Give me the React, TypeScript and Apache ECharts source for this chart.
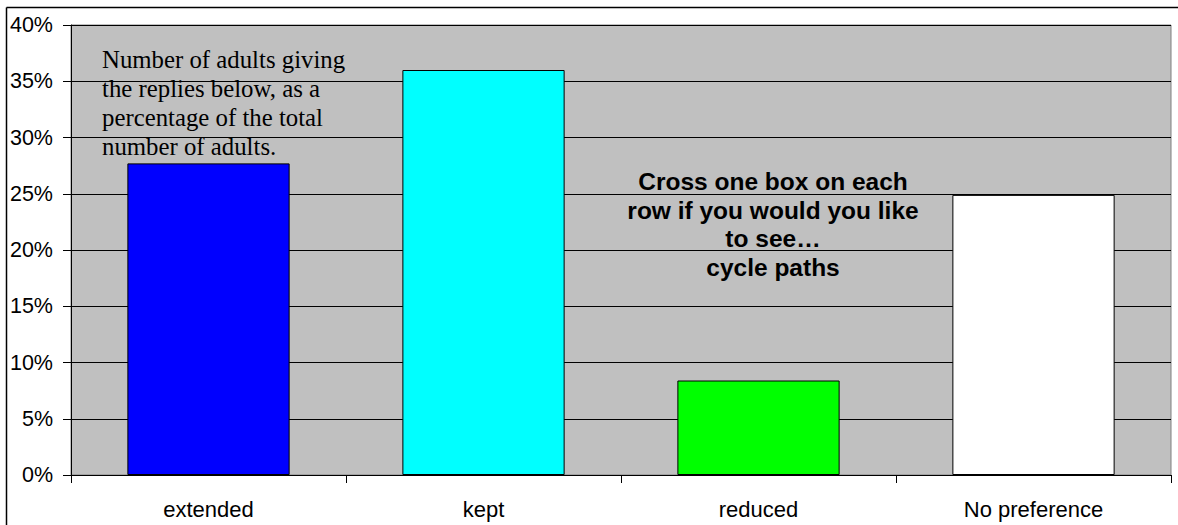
import React, { useEffect, useRef } from "react";
import * as echarts from "echarts";

const categories = ["extended", "kept", "reduced", "No preference"];
const values = [27.7, 36.0, 8.4, 24.9];
const barColors = ["#0000FF", "#00FFFF", "#00FF00", "#FFFFFF"];
const noteLeft = [
  "Number of adults giving",
  "the replies below, as a",
  "percentage of the total",
  "number of adults.",
];
const noteRight = [
  "Cross one box on each",
  "row if you would you like",
  "to see…",
  "cycle paths",
];

export default function App() {
  const ref = useRef<HTMLDivElement>(null);
  useEffect(() => {
    if (!ref.current) return;
    const chart = echarts.init(ref.current, null, { renderer: "svg" });
    chart.setOption({
      animation: false,
      backgroundColor: "#FFFFFF",
      grid: {
        left: 71,
        right: 7,
        top: 25,
        bottom: 50,
        show: true,
        backgroundColor: "#C0C0C0",
        borderColor: "#808080",
        borderWidth: 1,
      },
      xAxis: {
        type: "category",
        data: categories,
        boundaryGap: true,
        axisLine: { lineStyle: { color: "#000", width: 1 } },
        axisTick: { show: true, inside: false, length: 8, alignWithLabel: false, lineStyle: { color: "#000" } },
        axisLabel: {
          color: "#000",
          fontFamily: "Liberation Sans",
          fontSize: 22,
          margin: 23,
        },
      },
      yAxis: {
        type: "value",
        min: 0,
        max: 40,
        interval: 5,
        axisLine: { show: true, lineStyle: { color: "#000", width: 1 } },
        axisTick: { show: true, inside: false, length: 8, lineStyle: { color: "#000" } },
        axisLabel: {
          formatter: "{value}%",
          color: "#000",
          fontFamily: "Liberation Sans",
          fontSize: 21.5,
          margin: 18,
        },
        splitLine: { show: true, lineStyle: { color: "#000", width: 1 } },
      },
      series: [
        {
          type: "bar",
          barWidth: "59%",
          data: values.map((v, i) => ({
            value: v,
            itemStyle: { color: barColors[i], borderColor: "#000", borderWidth: 1 },
          })),
        },
      ],
      graphic: [
        {
          type: "line",
          shape: { x1: 6.5, y1: 7.5, x2: 1178, y2: 7.5 },
          style: { stroke: "#000", lineWidth: 1.5 },
          z: 100,
        },
        {
          type: "line",
          shape: { x1: 6.5, y1: 7.5, x2: 6.5, y2: 525 },
          style: { stroke: "#000", lineWidth: 1.5 },
          z: 100,
        },
        {
          type: "text",
          left: 102,
          top: 45,
          z: 100,
          style: {
            text: noteLeft.join("\n"),
            fontFamily: "Liberation Serif",
            fontSize: 24.8,
            lineHeight: 29,
            fill: "#000",
          },
        },
        {
          type: "text",
          x: 773,
          y: 167,
          z: 100,
          style: {
            text: noteRight.join("\n"),
            fontFamily: "Liberation Sans",
            fontWeight: "bold",
            fontSize: 24.5,
            lineHeight: 28.7,
            fill: "#000",
            align: "center",
            verticalAlign: "top",
          },
        },
      ],
    });
    return () => chart.dispose();
  }, []);
  return (
    <div
      ref={ref}
      style={{ position: "absolute", left: 0, top: 0, width: 1178, height: 525 }}
    />
  );
}
